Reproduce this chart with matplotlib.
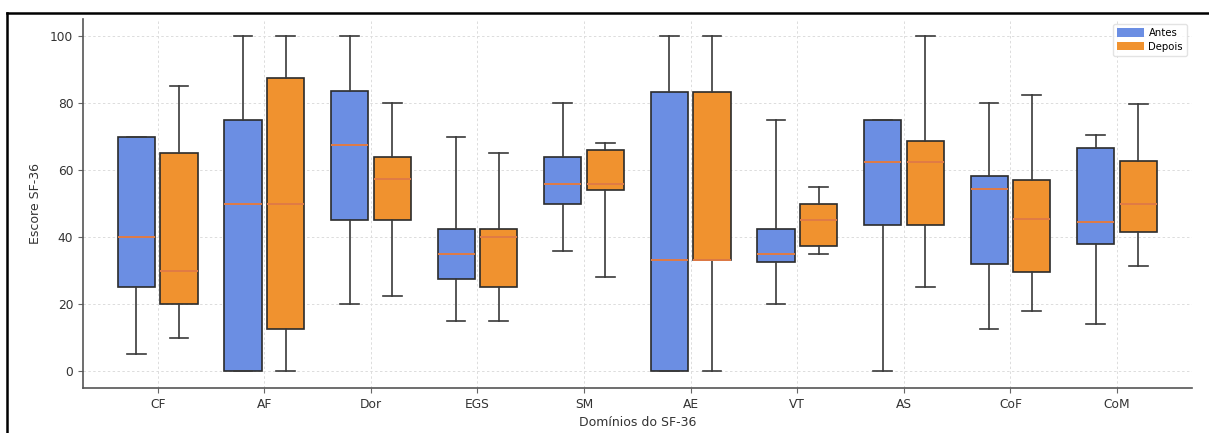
import matplotlib
matplotlib.use("Agg")
import matplotlib.pyplot as plt
from matplotlib.patches import Patch
from matplotlib.lines import Line2D

# domínios do SF-36
dominios = ["CF", "AF", "Dor", "EGS", "SM", "AE", "VT", "AS", "CoF", "CoM"]

# Antes: whisker baixo, Q1, mediana, Q3, whisker alto
antes_wlo = [5, 0, 20, 15, 36, 0, 20, 0, 12.5, 14]
antes_q1 = [25, 0, 45, 27.5, 50, 0, 32.5, 43.75, 31.9, 38]
antes_med = [40, 50, 67.5, 35, 56, 33.3, 35, 62.5, 54.4, 44.4]
antes_q3 = [70, 75, 83.75, 42.5, 64, 83.3, 42.5, 75, 58.3, 66.7]
antes_whi = [70, 100, 100, 70, 80, 100, 75, 75, 80, 70.5]

# Depois
depois_wlo = [10, 0, 22.5, 15, 28, 0, 35, 25, 18, 31.5]
depois_q1 = [20, 12.5, 45, 25, 54, 33.3, 37.5, 43.75, 29.5, 41.7]
depois_med = [30, 50, 57.5, 40, 56, 33.3, 45, 62.5, 45.5, 50]
depois_q3 = [65, 87.5, 63.8, 42.5, 66, 83.3, 50, 68.75, 57, 62.7]
depois_whi = [85, 100, 80, 65, 68, 100, 55, 100, 82.5, 79.7]

cor_antes = "#6B8EE3"
cor_depois = "#F0922F"
cor_mediana = "#E07B45"


def monta_stats(wlo, q1, med, q3, whi):
    return [
        {"whislo": a, "q1": b, "med": c, "q3": d, "whishi": e, "fliers": []}
        for a, b, c, d, e in zip(wlo, q1, med, q3, whi)
    ]


fig = plt.figure(figsize=(12.09, 4.33), dpi=100)
ax = fig.add_axes([0.0687, 0.104, 0.917, 0.851])

pos = list(range(len(dominios)))
grupos = [
    (monta_stats(antes_wlo, antes_q1, antes_med, antes_q3, antes_whi), -0.2, cor_antes),
    (monta_stats(depois_wlo, depois_q1, depois_med, depois_q3, depois_whi), 0.2, cor_depois),
]
for stats, desl, cor in grupos:
    ax.bxp(
        stats,
        positions=[p + desl for p in pos],
        widths=0.35,
        patch_artist=True,
        showfliers=False,
        boxprops=dict(facecolor=cor, edgecolor="#2b2b2b", linewidth=1.2),
        medianprops=dict(color=cor_mediana, linewidth=1.4),
        whiskerprops=dict(color="#3a3a3a", linewidth=1.2),
        capprops=dict(color="#3a3a3a", linewidth=1.2),
        manage_ticks=False,
        zorder=3,
    )

ax.set_xticks(pos)
ax.set_xticklabels(dominios, fontsize=8.8, color="#333333")
ax.set_yticks([0, 20, 40, 60, 80, 100])
ax.tick_params(axis="y", labelsize=8.8, labelcolor="#333333")
ax.tick_params(axis="both", color="#666666", length=3.5, width=0.8)
ax.set_xlim(-0.7, 9.7)
ax.set_ylim(-5, 105)

ax.set_axisbelow(True)
ax.grid(True, linestyle=(0, (2.5, 2.5)), color="#dcdcdc", linewidth=0.7)
for lado in ["top", "right"]:
    ax.spines[lado].set_visible(False)
for lado in ["left", "bottom"]:
    ax.spines[lado].set_color("#555555")
    ax.spines[lado].set_linewidth(1.2)

ax.set_xlabel("Domínios do SF-36", fontsize=9, color="#333333", labelpad=4)
ax.set_ylabel("Escore SF-36", fontsize=9, color="#333333", labelpad=6)

handles = [Patch(facecolor=cor_antes, label="Antes"), Patch(facecolor=cor_depois, label="Depois")]
ax.legend(
    handles=handles,
    loc="upper right",
    fontsize=7.3,
    handlelength=2.7,
    handleheight=0.9,
    handletextpad=0.4,
    borderaxespad=0.45,
    labelspacing=0.35,
    frameon=True,
    edgecolor="#dddddd",
    fancybox=True,
)

# moldura da captura
fig.add_artist(Line2D([7 / 1209, 7 / 1209], [0, 1 - 13 / 433], color="black", linewidth=1.8))
fig.add_artist(Line2D([7 / 1209, 1], [1 - 13 / 433, 1 - 13 / 433], color="black", linewidth=1.8))

fig.savefig("out.png", dpi=100)
